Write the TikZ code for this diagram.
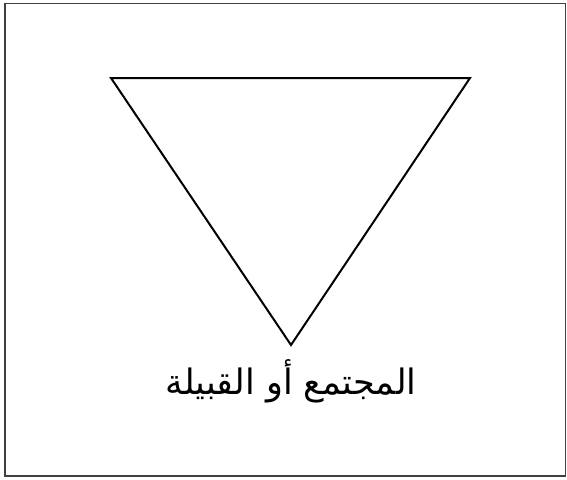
\documentclass[tikz,border=0pt]{standalone}
\usepackage{fontspec}
\newfontfamily\arabicfont[Script=Arabic]{DejaVu Sans}
\TeXXeTstate=1
\usetikzlibrary{positioning}

\begin{document}
\begin{tikzpicture}[
  x=1pt, y=-1pt,
  frame/.style={draw=black!75, line width=1.4pt},
  tri/.style={draw, line width=2pt, line join=miter},
  caption/.style={font=\arabicfont\fontsize{35}{40}\selectfont, inner sep=0pt},
]
  \useasboundingbox (0,0) rectangle (567,479);
  % outer frame
  \draw[frame] (5,3.5) rectangle (565.5,476);

  % inverted triangle
  \coordinate (tl) at (111,78);
  \coordinate (tr) at (470,78);
  \coordinate (tip) at (291,345);
  \draw[tri] (tl) -- (tr) -- (tip) -- cycle;

  % label under the tip
  \node[caption, below=14pt of tip] (community) {\beginR المجتمع أو القبيلة\endR};
\end{tikzpicture}
\end{document}
